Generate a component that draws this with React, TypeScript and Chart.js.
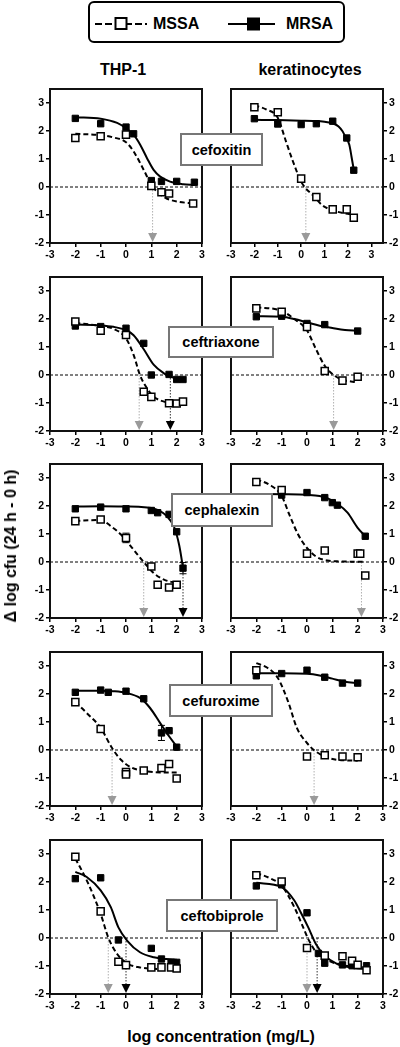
import React, { useEffect, useRef } from "react";
import { Chart, registerables } from "chart.js";

Chart.register(...registerables);

type P = [number, number];

// ---- axis / labels ----
const xTicks = [-3, -2, -1, 0, 1, 2, 3];
const yTicks = [-2, -1, 0, 1, 2, 3];
const drugs = ["cefoxitin", "ceftriaxone", "cephalexin", "cefuroxime", "ceftobiprole"];
const cellTypes = ["THP-1", "keratinocytes"];
const strains = ["MSSA", "MRSA"];
const yTitle = "\u0394 log cfu (24 h - 0 h)";
const xTitle = "log concentration (mg/L)";

// ---- cefoxitin, THP-1 ----
const cfxThpMssa: P[] = [[-2, 1.75], [-1, 1.81], [0, 1.87], [1, 0.04], [1.4, -0.19], [1.7, -0.23], [2.65, -0.59]];
const cfxThpMrsa: P[] = [[-2, 2.45], [-1, 2.26], [0, 2.14], [0.3, 1.9], [1, 0.23], [1.4, 0.2], [2, 0.2], [2.7, 0.17]];
const cfxThpMssaFit: P[] = [[-2, 1.9], [-1, 1.85], [-0.5, 1.77], [0, 1.6], [0.3, 1.27], [0.7, 0.61], [1, 0.08], [1.3, -0.22], [1.6, -0.41], [2.1, -0.53], [2.7, -0.59]];
const cfxThpMrsaFit: P[] = [[-2, 2.49], [-1, 2.44], [-0.35, 2.29], [0, 2.1], [0.3, 1.87], [0.56, 1.51], [0.83, 1.03], [1.09, 0.61], [1.35, 0.37], [1.74, 0.19], [2.26, 0.1], [2.7, 0.07]];
const cfxThpArrows = [1.05, NaN];

// ---- cefoxitin, keratinocytes ----
const cfxKerMssa: P[] = [[-2, 2.85], [-1, 2.67], [0, 0.3], [0.65, -0.36], [1.35, -0.8], [1.95, -0.8], [2.25, -1.1]];
const cfxKerMrsa: P[] = [[-2, 2.44], [-1, 2.25], [0, 2.23], [0.65, 2.26], [1.35, 2.35], [1.95, 1.75], [2.25, 0.6]];
const cfxKerMssaFit: P[] = [[-2, 2.92], [-1.5, 2.77], [-1, 2.47], [-0.65, 1.63], [-0.35, 0.91], [0, 0.19], [0.2, -0.05], [0.5, -0.29], [0.9, -0.65], [1.35, -0.83], [1.9, -0.95], [2.2, -0.98]];
const cfxKerMrsaFit: P[] = [[-2, 2.4], [-1, 2.39], [0, 2.37], [0.5, 2.36], [1, 2.33], [1.4, 2.26], [1.6, 2.16], [1.77, 1.99], [1.9, 1.78], [2.06, 1.51], [2.15, 1.1], [2.24, 0.67]];
const cfxKerArrows = [0.2, NaN];

// ---- ceftriaxone, THP-1 ----
const crxThpMssa: P[] = [[-2, 1.91], [-1, 1.58], [0, 1.43], [0.7, -0.6], [1, -0.78], [1.7, -1.01], [2, -1.02], [2.25, -0.95]];
const crxThpMrsa: P[] = [[-2, 1.75], [-1, 1.73], [0, 1.67], [0.7, 1.13], [1, 0.0], [1.7, 0.02], [2, -0.16], [2.25, -0.16]];
const crxThpMssaFit: P[] = [[-2, 1.86], [-1, 1.75], [-0.5, 1.65], [0, 1.31], [0.3, 0.72], [0.55, 0.0], [0.83, -0.48], [1.1, -0.78], [1.5, -0.95], [2, -1.04], [2.25, -1.05]];
const crxThpMrsaFit: P[] = [[-2, 1.8], [-1, 1.77], [-0.5, 1.72], [0, 1.6], [0.3, 1.42], [0.7, 0.92], [1.1, 0.36], [1.5, 0.06], [1.75, -0.06], [2, -0.12], [2.25, -0.14]];
const crxThpArrows = [0.52, 1.75];

// ---- ceftriaxone, keratinocytes ----
const crxKerMssa: P[] = [[-2, 2.38], [-1, 2.26], [0, 1.72], [0.7, 0.14], [1.4, -0.2], [2, -0.06]];
const crxKerMrsa: P[] = [[-2, 2.08], [-1, 2.1], [0, 1.84], [0.7, 1.8], [2, 1.57]];
const crxKerMssaFit: P[] = [[-2, 2.42], [-1, 2.29], [-0.5, 2.0], [0, 1.59], [0.35, 0.93], [0.7, 0.33], [1.05, 0.0], [1.4, -0.17], [2, -0.26]];
const crxKerMrsaFit: P[] = [[-2, 2.1], [-1, 2.08], [-0.5, 2.0], [0, 1.88], [0.5, 1.76], [1, 1.68], [1.5, 1.61], [2, 1.58]];
const crxKerArrows = [1.05, NaN];

// ---- cephalexin, THP-1 ----
const cphThpMssa: P[] = [[-2, 1.46], [-1, 1.52], [0, 0.86], [1, -0.16], [1.25, -0.81], [1.7, -0.91], [2, -0.81]];
const cphThpMssaErr = [0, 0.05, 0.17, 0, 0, 0, 0];
const cphThpMrsa: P[] = [[-2, 1.9], [-1, 1.96], [0, 1.9], [1, 1.84], [1.25, 1.76], [1.7, 1.7], [2, 1.08], [2.25, -0.22]];
const cphThpMrsaErr = [0, 0, 0, 0, 0, 0, 0, 0.2];
const cphThpMssaFit: P[] = [[-2, 1.47], [-1, 1.5], [-0.6, 1.28], [-0.2, 0.98], [0.3, 0.44], [0.7, 0.0], [1.1, -0.4], [1.5, -0.63], [2, -0.75]];
const cphThpMrsaFit: P[] = [[-2, 1.98], [-1, 1.99], [0, 1.98], [0.5, 1.97], [1, 1.93], [1.3, 1.84], [1.6, 1.65], [1.9, 1.25], [2.1, 0.6], [2.25, -0.2]];
const cphThpArrows = [0.7, 2.25];

// ---- cephalexin, keratinocytes ----
const cphKerMssa: P[] = [[-2, 2.86], [-1, 2.57], [0, 0.3], [0.7, 0.41], [2, 0.3], [2.1, 0.3], [2.3, -0.48]];
const cphKerMrsa: P[] = [[-1, 2.39], [0, 2.48], [0.7, 2.3], [1, 2.12], [1.2, 2.03], [2.3, 0.92]];
const cphKerMssaFit: P[] = [[-2, 2.95], [-1.5, 2.77], [-1, 2.36], [-0.7, 1.7], [-0.35, 0.98], [0, 0.5], [0.35, 0.2], [0.8, 0.05], [1.3, 0.02], [2.2, 0.01]];
const cphKerMrsaFit: P[] = [[-2, 2.43], [-1, 2.42], [0, 2.4], [0.5, 2.36], [0.8, 2.28], [1.2, 2.08], [1.6, 1.76], [2, 1.22], [2.3, 0.92]];
const cphKerArrows = [2.15, NaN];

// ---- cefuroxime, THP-1 ----
const cfuThpMssa: P[] = [[-2, 1.71], [-1, 0.75], [0, -0.79], [0, -0.87], [0.7, -0.73], [1.4, -0.64], [1.7, -0.5], [2, -1.02]];
const cfuThpMrsa: P[] = [[-2, 2.06], [-1, 2.14], [-0.7, 2.06], [0, 2.1], [0.7, 1.83], [1.4, 0.61], [1.7, 0.69], [2, 0.1]];
const cfuThpMrsaErr = [0, 0, 0, 0, 0, 0.27, 0, 0];
const cfuThpMssaFit: P[] = [[-2, 1.71], [-1.55, 1.32], [-1, 0.79], [-0.55, 0.07], [-0.2, -0.35], [0.2, -0.62], [0.7, -0.74], [1.35, -0.8], [2, -0.8]];
const cfuThpMrsaFit: P[] = [[-2, 2.12], [-1, 2.12], [-0.5, 2.1], [0, 2.04], [0.55, 1.86], [0.95, 1.5], [1.35, 0.96], [1.7, 0.49], [2, 0.13]];
const cfuThpArrows = [-0.55, NaN];

// ---- cefuroxime, keratinocytes ----
const cfuKerMssa: P[] = [[-2, 2.85], [0, -0.23], [0.7, -0.19], [1.4, -0.23], [2, -0.26]];
const cfuKerMrsa: P[] = [[-2, 2.65], [-1, 2.73], [0, 2.85], [0.7, 2.6], [1.4, 2.39], [2, 2.39]];
const cfuKerMssaFit: P[] = [[-2, 3.1], [-1.55, 2.93], [-1.15, 2.57], [-0.75, 1.74], [-0.4, 0.79], [0, 0.25], [0.3, -0.02], [0.7, -0.23], [1.2, -0.35], [2, -0.38]];
const cfuKerMrsaFit: P[] = [[-2, 2.74], [-1, 2.74], [0, 2.72], [0.5, 2.66], [1, 2.55], [1.5, 2.44], [2, 2.38]];
const cfuKerArrows = [0.28, NaN];

// ---- ceftobiprole, THP-1 ----
const cbpThpMssa: P[] = [[-2, 2.9], [-1, 0.95], [-0.3, -0.85], [0, -0.97], [1, -1.05], [1.4, -1.05], [1.78, -1.05], [2, -1.09]];
const cbpThpMrsa: P[] = [[-2, 2.12], [-1, 2.15], [-0.3, -0.07], [1, -0.37], [1.4, -0.75], [1.78, -0.87], [2, -0.87]];
const cbpThpMssaFit: P[] = [[-2, 2.84], [-1.55, 2.06], [-1, 0.86], [-0.7, 0.02], [-0.35, -0.57], [0.05, -0.91], [0.55, -1.05], [1.1, -1.1], [2, -1.13]];
const cbpThpMrsaFit: P[] = [[-2, 2.36], [-1.55, 2.18], [-1, 1.7], [-0.6, 1.1], [-0.3, 0.38], [0.05, -0.1], [0.55, -0.51], [1.1, -0.69], [1.6, -0.75], [2, -0.78]];
const cbpThpArrows = [-0.7, 0.0];

// ---- ceftobiprole, keratinocytes ----
const cbpKerMssa: P[] = [[-2, 2.24], [-1, 2.02], [0, -0.36], [0.7, -0.63], [1.4, -0.65], [1.78, -0.81], [2, -0.96], [2.35, -1.15]];
const cbpKerMrsa: P[] = [[-2, 1.86], [-1, 1.9], [0, 0.9], [0.45, -0.55], [0.7, -0.9], [1.4, -0.96], [1.78, -0.99], [2.35, -0.99]];
const cbpKerMssaFit: P[] = [[-2, 2.32], [-1.45, 2.13], [-1, 1.87], [-0.5, 1.1], [-0.15, 0.38], [0.05, -0.04], [0.4, -0.55], [0.8, -0.79], [1.3, -0.95], [2, -1.05], [2.35, -1.1]];
const cbpKerMrsaFit: P[] = [[-2, 1.97], [-1, 1.82], [-0.5, 1.34], [-0.25, 0.92], [0.05, 0.38], [0.35, -0.21], [0.7, -0.63], [1.2, -0.93], [1.85, -1.07], [2.35, -1.11]];
const cbpKerArrows = [0.0, 0.4];

const xMaxes = [[3, 3.5], [3, 3], [3, 3], [3, 3], [3, 3]];

interface PanelData {
  mssa: P[];
  mrsa: P[];
  mssaFit: P[];
  mrsaFit: P[];
  mssaErr?: number[];
  mrsaErr?: number[];
  arrows: number[];
}

const panels: PanelData[][] = [
  [
    { mssa: cfxThpMssa, mrsa: cfxThpMrsa, mssaFit: cfxThpMssaFit, mrsaFit: cfxThpMrsaFit, arrows: cfxThpArrows },
    { mssa: cfxKerMssa, mrsa: cfxKerMrsa, mssaFit: cfxKerMssaFit, mrsaFit: cfxKerMrsaFit, arrows: cfxKerArrows },
  ],
  [
    { mssa: crxThpMssa, mrsa: crxThpMrsa, mssaFit: crxThpMssaFit, mrsaFit: crxThpMrsaFit, arrows: crxThpArrows },
    { mssa: crxKerMssa, mrsa: crxKerMrsa, mssaFit: crxKerMssaFit, mrsaFit: crxKerMrsaFit, arrows: crxKerArrows },
  ],
  [
    { mssa: cphThpMssa, mrsa: cphThpMrsa, mssaFit: cphThpMssaFit, mrsaFit: cphThpMrsaFit, mssaErr: cphThpMssaErr, mrsaErr: cphThpMrsaErr, arrows: cphThpArrows },
    { mssa: cphKerMssa, mrsa: cphKerMrsa, mssaFit: cphKerMssaFit, mrsaFit: cphKerMrsaFit, arrows: cphKerArrows },
  ],
  [
    { mssa: cfuThpMssa, mrsa: cfuThpMrsa, mssaFit: cfuThpMssaFit, mrsaFit: cfuThpMrsaFit, mrsaErr: cfuThpMrsaErr, arrows: cfuThpArrows },
    { mssa: cfuKerMssa, mrsa: cfuKerMrsa, mssaFit: cfuKerMssaFit, mrsaFit: cfuKerMrsaFit, arrows: cfuKerArrows },
  ],
  [
    { mssa: cbpThpMssa, mrsa: cbpThpMrsa, mssaFit: cbpThpMssaFit, mrsaFit: cbpThpMrsaFit, arrows: cbpThpArrows },
    { mssa: cbpKerMssa, mrsa: cbpKerMrsa, mssaFit: cbpKerMssaFit, mrsaFit: cbpKerMrsaFit, arrows: cbpKerArrows },
  ],
];

// ---- layout (page pixels) ----
const FONT = "'Liberation Sans', Arial, Helvetica, sans-serif";
const ROW_TOPS = [89, 277, 464, 652, 840];
const PLOT_H = 154;
const PAD_T = 10;
const PAD_B = 22;
const COLS = [
  { canvasLeft: 0, width: 215, padL: 50, padR: 13, side: "left" as const },
  { canvasLeft: 221, width: 179, padL: 10, padR: 17, side: "right" as const },
];
const LABEL_BOXES = [
  { left: 180, top: 133, width: 83, height: 33 },
  { left: 168, top: 326, width: 106, height: 32 },
  { left: 171, top: 493, width: 102, height: 34 },
  { left: 169, top: 684, width: 104, height: 33 },
  { left: 166, top: 899, width: 112, height: 33 },
];

const toXY = (arr: P[]) => arr.map(([x, y]) => ({ x, y }));

function makeDecor(pd: PanelData) {
  return {
    id: "panelDecor",
    beforeDatasetsDraw(chart: any) {
      const { ctx, chartArea: a, scales } = chart;
      const xs = scales.x;
      const ys = scales.y;
      const y0 = ys.getPixelForValue(0);
      ctx.save();
      // zero reference line
      ctx.strokeStyle = "#000";
      ctx.lineWidth = 1;
      ctx.setLineDash([3, 2]);
      ctx.beginPath();
      ctx.moveTo(a.left, y0);
      ctx.lineTo(a.right, y0);
      ctx.stroke();
      // arrows
      const colors = ["#9a9a9a", "#000"];
      pd.arrows.forEach((v, i) => {
        if (!isFinite(v)) return;
        const px = xs.getPixelForValue(v);
        ctx.strokeStyle = i === 0 ? "#b0b0b0" : "#333";
        ctx.lineWidth = 1;
        ctx.setLineDash([1.5, 1.5]);
        ctx.beginPath();
        ctx.moveTo(px, y0);
        ctx.lineTo(px, a.bottom - 9);
        ctx.stroke();
        ctx.setLineDash([]);
        ctx.fillStyle = colors[i];
        ctx.beginPath();
        ctx.moveTo(px - 4.5, a.bottom - 10);
        ctx.lineTo(px + 4.5, a.bottom - 10);
        ctx.lineTo(px, a.bottom - 1);
        ctx.closePath();
        ctx.fill();
      });
      // error bars
      ctx.setLineDash([]);
      ctx.strokeStyle = "#000";
      ctx.lineWidth = 1;
      const drawErr = (pts: P[], errs?: number[]) => {
        if (!errs) return;
        pts.forEach(([x, y], i) => {
          const e = errs[i];
          if (!e) return;
          const px = xs.getPixelForValue(x);
          const top = ys.getPixelForValue(y + e);
          const bot = ys.getPixelForValue(y - e);
          ctx.beginPath();
          ctx.moveTo(px, top);
          ctx.lineTo(px, bot);
          ctx.moveTo(px - 3.5, top);
          ctx.lineTo(px + 3.5, top);
          ctx.moveTo(px - 3.5, bot);
          ctx.lineTo(px + 3.5, bot);
          ctx.stroke();
        });
      };
      drawErr(pd.mssa, pd.mssaErr);
      drawErr(pd.mrsa, pd.mrsaErr);
      ctx.restore();
    },
    afterDraw(chart: any) {
      const { ctx, chartArea: a } = chart;
      ctx.save();
      ctx.strokeStyle = "#111";
      ctx.lineWidth = 2;
      ctx.setLineDash([]);
      ctx.strokeRect(a.left, a.top, a.right - a.left, a.bottom - a.top);
      ctx.restore();
    },
  };
}

function Panel({ row, col }: { row: number; col: number }) {
  const ref = useRef<HTMLCanvasElement>(null);
  const c = COLS[col];
  const pd = panels[row][col];
  const height = PAD_T + PLOT_H + PAD_B;
  const top = ROW_TOPS[row] - PAD_T;
  useEffect(() => {
    const tickFont = { family: FONT, size: 10.5, weight: "bold" as const };
    const chart = new Chart(ref.current!, {
      type: "scatter",
      data: {
        datasets: [
          {
            label: strains[0],
            data: toXY(pd.mssa),
            showLine: false,
            pointStyle: "rect",
            pointRadius: 5,
            pointBackgroundColor: "#fff",
            pointBorderColor: "#000",
            pointBorderWidth: 1.5,
            order: 0,
          },
          {
            label: strains[1],
            data: toXY(pd.mrsa),
            showLine: false,
            pointStyle: "rect",
            pointRadius: 4.5,
            pointBackgroundColor: "#000",
            pointBorderColor: "#000",
            pointBorderWidth: 1,
            order: 1,
          },
          {
            label: strains[1] + " fit",
            data: toXY(pd.mrsaFit),
            showLine: true,
            pointRadius: 0,
            borderColor: "#000",
            borderWidth: 2,
            cubicInterpolationMode: "monotone",
            order: 2,
          },
          {
            label: strains[0] + " fit",
            data: toXY(pd.mssaFit),
            showLine: true,
            pointRadius: 0,
            borderColor: "#000",
            borderWidth: 2,
            borderDash: [5, 3],
            cubicInterpolationMode: "monotone",
            order: 3,
          },
        ],
      },
      options: {
        animation: false,
        responsive: false,
        maintainAspectRatio: false,
        devicePixelRatio: 1,
        events: [],
        layout: { padding: { top: PAD_T, left: c.side === "left" ? 0 : c.padL, right: c.side === "left" ? c.padR : 0, bottom: 0 } },
        plugins: { legend: { display: false }, tooltip: { enabled: false } },
        scales: {
          x: {
            type: "linear",
            min: -3,
            max: xMaxes[row][col],
            afterBuildTicks: (s: any) => {
              s.ticks = xTicks.map((v) => ({ value: v }));
            },
            afterFit: (s: any) => {
              s.height = PAD_B;
            },
            ticks: { font: tickFont, color: "#000", padding: 2, maxRotation: 0, autoSkip: false },
            grid: { drawOnChartArea: false, drawTicks: true, tickLength: 4, color: "#000", lineWidth: 1.5 },
            border: { display: true, color: "#000", width: 2 },
          },
          y: {
            type: "linear",
            position: c.side,
            min: -2,
            max: 3.5,
            afterBuildTicks: (s: any) => {
              s.ticks = yTicks.map((v) => ({ value: v }));
            },
            afterFit: (s: any) => {
              s.width = c.side === "left" ? c.padL : c.padR;
            },
            ticks: { font: tickFont, color: "#000", padding: 2, autoSkip: false },
            grid: { drawOnChartArea: false, drawTicks: true, tickLength: 4, color: "#000", lineWidth: 1.5 },
            border: { display: true, color: "#000", width: 2 },
          },
        },
      } as any,
      plugins: [makeDecor(pd)],
    });
    return () => chart.destroy();
  }, []);
  return (
    <canvas
      ref={ref}
      width={c.width}
      height={height}
      style={{ position: "absolute", left: c.canvasLeft, top, width: c.width, height }}
    />
  );
}

const textBase: React.CSSProperties = {
  position: "absolute",
  fontFamily: FONT,
  fontWeight: "bold",
  color: "#000",
  whiteSpace: "nowrap",
};

export default function App() {
  return (
    <div style={{ position: "absolute", left: 0, top: 0, width: 400, height: 1047, background: "#fff", overflow: "hidden" }}>
      {/* legend */}
      <div
        style={{
          position: "absolute",
          left: 88,
          top: 1,
          width: 257,
          height: 42,
          border: "2px solid #000",
          borderRadius: 6,
          boxSizing: "border-box",
        }}
      />
      <svg style={{ position: "absolute", left: 0, top: 0 }} width={400} height={45}>
        <line x1={95} y1={24} x2={147} y2={24} stroke="#000" strokeWidth={2} strokeDasharray="7 3" />
        <rect x={115.5} y={18} width={11} height={11} fill="#fff" stroke="#000" strokeWidth={2} />
        <line x1={228} y1={24} x2={275} y2={24} stroke="#000" strokeWidth={2} />
        <rect x={247} y={17.5} width={13} height={13} fill="#000" />
      </svg>
      <div style={{ ...textBase, left: 153, top: 14, fontSize: 16, lineHeight: "20px" }}>{strains[0]}</div>
      <div style={{ ...textBase, left: 286, top: 14, fontSize: 16, lineHeight: "20px" }}>{strains[1]}</div>

      {/* column titles */}
      <div style={{ ...textBase, left: 73, width: 100, textAlign: "center", top: 60, fontSize: 16, lineHeight: "20px" }}>{cellTypes[0]}</div>
      <div style={{ ...textBase, left: 240, width: 140, textAlign: "center", top: 60, fontSize: 16, lineHeight: "20px" }}>{cellTypes[1]}</div>

      {ROW_TOPS.map((_, r) => (
        <React.Fragment key={r}>
          <Panel row={r} col={0} />
          <Panel row={r} col={1} />
        </React.Fragment>
      ))}

      {LABEL_BOXES.map((b, i) => (
        <div
          key={drugs[i]}
          style={{
            ...textBase,
            left: b.left,
            top: b.top,
            width: b.width,
            height: b.height,
            boxSizing: "border-box",
            border: "2px solid #777",
            background: "#fff",
            fontSize: 14.5,
            display: "flex",
            alignItems: "center",
            justifyContent: "center",
          }}
        >
          {drugs[i]}
        </div>
      ))}

      {/* axis titles */}
      <div
        style={{
          ...textBase,
          left: 11,
          top: 546,
          fontSize: 16,
          lineHeight: "18px",
          transform: "translate(-50%, -50%) rotate(-90deg)",
        }}
      >
        {yTitle}
      </div>
      <div style={{ ...textBase, left: 21, width: 400, textAlign: "center", top: 1027, fontSize: 16, lineHeight: "20px" }}>{xTitle}</div>
    </div>
  );
}
